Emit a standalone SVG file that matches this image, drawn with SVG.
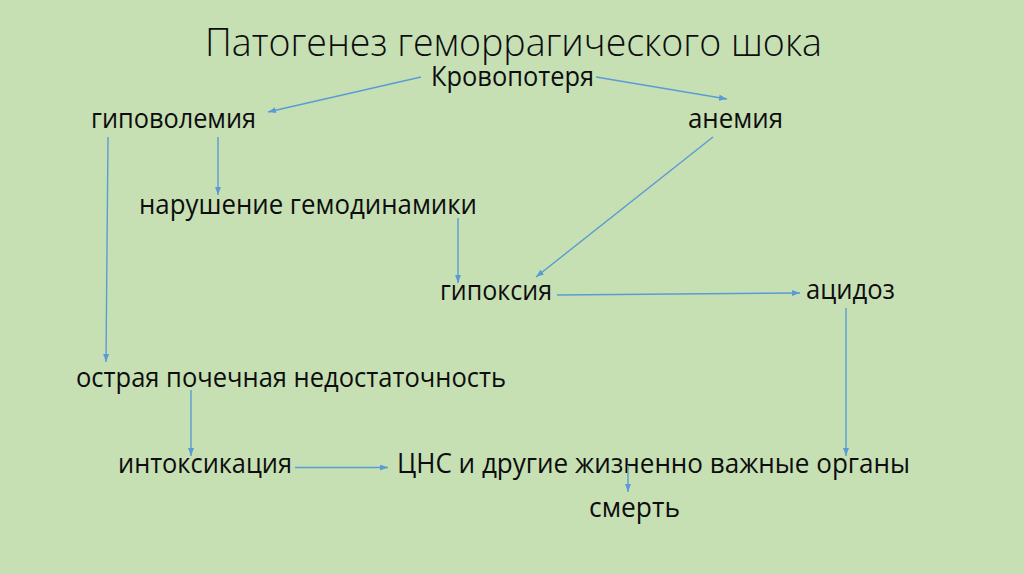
<svg xmlns="http://www.w3.org/2000/svg" width="1024" height="574" viewBox="0 0 1024 574">
<style>
.t{font-family:"Open Sans","Noto Sans","DejaVu Sans",sans-serif;font-size:27px;fill:#0d0d0d}
.title{font-family:"Open Sans","Noto Sans","DejaVu Sans",sans-serif;font-size:39px;font-weight:300;fill:#0d0d0d}
.c{stroke:#5b9bd5;stroke-width:1.4;fill:none;marker-end:url(#ah)}
</style>
<defs>
<marker id="ah" markerUnits="userSpaceOnUse" markerWidth="9" markerHeight="7" refX="8" refY="3" orient="auto">
<path d="M0,0 L8,3 L0,6 z" fill="#5b9bd5"/>
</marker>
</defs>
<rect width="1024" height="574" fill="#c6e0b4"/>
<g id="title"><text class="title" x="205" y="56" textLength="617" lengthAdjust="spacingAndGlyphs">Патогенез геморрагического шока</text></g>
<g id="n-krovopoterya"><text class="t" x="431" y="86" textLength="163" lengthAdjust="spacingAndGlyphs">Кровопотеря</text></g>
<g id="n-gipovolemiya"><text class="t" x="91" y="128" textLength="165" lengthAdjust="spacingAndGlyphs">гиповолемия</text></g>
<g id="n-anemiya"><text class="t" x="688" y="128" textLength="95" lengthAdjust="spacingAndGlyphs">анемия</text></g>
<g id="n-narushenie"><text class="t" x="139" y="214" textLength="338" lengthAdjust="spacingAndGlyphs">нарушение гемодинамики</text></g>
<g id="n-gipoksiya"><text class="t" x="440" y="300" textLength="112" lengthAdjust="spacingAndGlyphs">гипоксия</text></g>
<g id="n-acidoz"><text class="t" x="806" y="299" textLength="89" lengthAdjust="spacingAndGlyphs">ацидоз</text></g>
<g id="n-opn"><text class="t" x="76" y="387" textLength="430" lengthAdjust="spacingAndGlyphs">острая почечная недостаточность</text></g>
<g id="n-intoksikaciya"><text class="t" x="118" y="473" textLength="174" lengthAdjust="spacingAndGlyphs">интоксикация</text></g>
<g id="n-cns"><text class="t" x="397" y="473" textLength="513" lengthAdjust="spacingAndGlyphs">ЦНС и другие жизненно важные органы</text></g>
<g id="n-smert"><text class="t" x="589" y="517" textLength="91" lengthAdjust="spacingAndGlyphs">смерть</text></g>
<g id="connectors">
<path class="c" d="M421,77 L268,112"/>
<path class="c" d="M596,77 L727,99"/>
<path class="c" d="M108,137 L106,362"/>
<path class="c" d="M218,137 L218,195"/>
<path class="c" d="M458,218 L458,283"/>
<path class="c" d="M713,137 L536,277"/>
<path class="c" d="M557,295 L800,293"/>
<path class="c" d="M846,308 L846,456"/>
<path class="c" d="M191,390 L191,456"/>
<path class="c" d="M295,467.5 L388,467.5"/>
<path class="c" d="M628,465 L628,492"/>
</g>
</svg>
